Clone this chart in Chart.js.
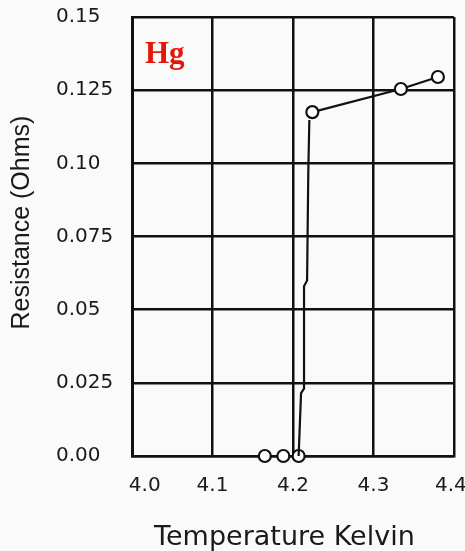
<!DOCTYPE html>
<html>
<head>
<meta charset="utf-8">
<script src="https://cdn.jsdelivr.net/npm/chart.js@4/dist/chart.umd.min.js"></script>
<style>
  html, body { margin: 0; padding: 0; background: #fafafa; }
  #wrap { width: 465px; height: 551px; }
</style>
</head>
<body>
<div id="wrap"><canvas id="c" width="465" height="551"></canvas></div>
<script>
// Mercury resistance vs temperature (Onnes, 1911).
const lowTemps = [4.165, 4.188, 4.207];
const lowRes = [0, 0, 0];

// the near-vertical drop, drawn without markers
const dropTemps = [4.207, 4.210, 4.2137, 4.2137, 4.2175, 4.219, 4.2203];
const dropRes = [0, 0.0215, 0.023, 0.058, 0.060, 0.097, 0.1148];

const highTemps = [4.224, 4.334, 4.380];
const highRes = [0.1175, 0.1254, 0.1295];

const xTickLabels = ["4.0", "4.1", "4.2", "4.3", "4.4"];
const yTickLabels = ["0.00", "0.025", "0.05", "0.075", "0.10", "0.125", "0.15"];

const INK = "#111111";
const TEXT = "#1a1a1a";
const TICK_FONT = { family: "'DejaVu Sans', sans-serif", size: 20 };

const pts = (xs, ys) => xs.map((x, i) => ({ x, y: ys[i] }));

// red "Hg" tag in the top-left cell
const hgLabel = {
  id: "hgLabel",
  afterDraw(chart) {
    const { ctx, chartArea } = chart;
    ctx.save();
    ctx.font = "bold 31px 'Liberation Serif', 'Times New Roman', serif";
    ctx.fillStyle = "#e3170a";
    ctx.textAlign = "left";
    ctx.textBaseline = "alphabetic";
    ctx.fillText("Hg", chartArea.left + 13, chartArea.top + 46);
    ctx.restore();
  },
};

const markerStyle = {
  pointRadius: 6,
  pointHoverRadius: 6,
  pointBackgroundColor: "#ffffff",
  pointBorderColor: INK,
  pointBorderWidth: 2.2,
};

new Chart(document.getElementById("c"), {
  type: "scatter",
  data: {
    datasets: [
      { data: pts(dropTemps, dropRes), showLine: true, borderColor: INK, borderWidth: 2.2, pointRadius: 0, clip: false },
      { data: pts(highTemps, highRes), showLine: true, borderColor: INK, borderWidth: 2.2, clip: false, ...markerStyle },
      { data: pts(lowTemps, lowRes), showLine: false, clip: false, ...markerStyle },
    ],
  },
  options: {
    responsive: false,
    animation: false,
    layout: { padding: { top: 17, right: 11, left: 0, bottom: 0 } },
    plugins: {
      legend: { display: false },
      tooltip: { enabled: false },
      title: {
        display: true,
        position: "left",
        fullSize: false,
        text: "    Resistance (Ohms)",
        color: TEXT,
        font: { family: "'Liberation Sans', Arial, sans-serif", size: 25, weight: "normal", lineHeight: 1.2 },
        padding: { top: 7, bottom: 19 },
      },
    },
    scales: {
      x: {
        type: "linear",
        min: 4.0,
        max: 4.4,
        grid: { color: INK, lineWidth: 2.5, drawTicks: false },
        border: { color: INK, width: 2.5 },
        ticks: {
          stepSize: 0.1,
          padding: 18,
          color: TEXT,
          font: TICK_FONT,
          maxRotation: 0,
          callback(value, i) {
            const s = xTickLabels[i] ?? "";
            if (i === 0) return "    " + s;  // first label sits right of its line
            if (i === xTickLabels.length - 1) return s + " ";
            return s;
          },
        },
        title: {
          display: true,
          text: "Temperature Kelvin  ",
          color: TEXT,
          font: { family: "'DejaVu Sans', sans-serif", size: 27, lineHeight: 1 },
          padding: { top: 0, bottom: 0 },
        },
        afterFit(scale) {
          scale.height = 95;
          scale.paddingLeft = 0;
          scale.paddingRight = 0;
        },
      },
      y: {
        min: 0,
        max: 0.15,
        grid: { color: INK, lineWidth: 2.5, drawTicks: false },
        border: { color: INK, width: 3 },
        ticks: {
          stepSize: 0.025,
          crossAlign: "far",
          color: TEXT,
          font: TICK_FONT,
          callback(value, i) { return yTickLabels[i] ?? ""; },
        },
        afterFit(scale) { scale.width = 76; },
      },
    },
  },
  plugins: [hgLabel],
});
</script>
</body>
</html>
